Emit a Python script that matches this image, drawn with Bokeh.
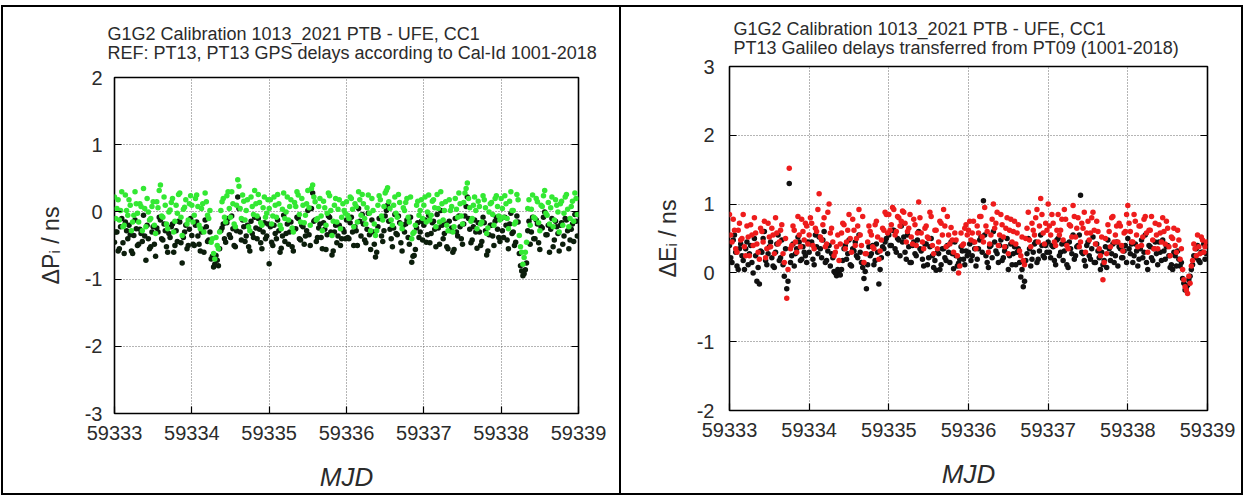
from bokeh.plotting import figure
from bokeh.models import FixedTicker, LinearAxis, Title, Range1d
from bokeh.layouts import row
from bokeh.embed import file_html
from bokeh.resources import INLINE

# ---------------- data ----------------
MJD_START = 59333
SAMPLES_PER_DAY = 32          # one track epoch every 45 min, two tracks interleaved
X_TICKS = [59333, 59334, 59335, 59336, 59337, 59338, 59339]
P_Y_TICKS = [-3, -2, -1, 0, 1, 2]
E_Y_TICKS = [-2, -1, 0, 1, 2, 3]

TITLE_LINE1 = "G1G2 Calibration 1013_2021 PTB - UFE, CC1"
P_TITLE_LINE2 = "REF: PT13, PT13 GPS delays according to Cal-Id 1001-2018"
E_TITLE_LINE2 = "PT13 Galileo delays transferred from PT09 (1001-2018)"
P_YLABEL = "\u0394P\u1d62 / ns"
E_YLABEL = "\u0394E\u1d62 / ns"
XLABEL = "MJD"

# Delta P (GPS) - green series, ns (track A)
dP_green = [
    0.22, 0.05, -0.12, 0.30, -0.20, 0.02, 0.18, -0.28, -0.05, 0.12, -0.15, 0.08, 0.35, -0.22, 0.00, -0.10,
    0.15, -0.32, 0.06, 0.40, -0.08, 0.10, -0.25, 0.03, 0.20, -0.14, -0.02, 0.28, -0.35, 0.07, -0.18, 0.12,
    0.10, -0.05, 0.25, -0.20, 0.05, -0.30, 0.15, -0.10, -0.45, -0.62, -0.38, -0.55, 0.02, 0.20, -0.15, 0.30,
    -0.08, 0.12, -0.22, 0.48, 0.05, 0.25, -0.12, 0.18, -0.28, 0.08, 0.32, -0.06, 0.14, -0.20, 0.22, -0.02,
    0.05, -0.18, 0.22, -0.08, 0.12, -0.25, 0.28, 0.00, -0.12, 0.18, -0.30, 0.08, 0.25, -0.15, 0.10, -0.05,
    0.32, -0.20, 0.40, 0.15, -0.10, 0.20, -0.28, 0.06, -0.02, 0.24, -0.35, 0.10, -0.15, 0.18, -0.08, 0.02,
    0.15, -0.10, 0.20, -0.22, 0.08, 0.30, -0.05, 0.12, -0.18, 0.25, -0.28, 0.02, -0.35, 0.10, 0.18, -0.12,
    0.28, 0.36, 0.05, -0.20, 0.22, -0.08, 0.14, -0.25, 0.02, 0.20, -0.15, -0.40, -0.30, 0.10, -0.05, 0.18,
    0.10, -0.15, 0.25, -0.05, 0.18, -0.22, 0.05, 0.30, -0.12, 0.15, -0.28, 0.02, -0.30, 0.20, -0.08, 0.12,
    -0.18, 0.28, 0.43, 0.06, -0.10, 0.22, -0.25, 0.08, -0.15, 0.18, -0.32, 0.00, 0.14, -0.20, 0.24, -0.06,
    0.20, -0.08, 0.12, -0.25, 0.30, 0.02, -0.15, 0.18, -0.52, -0.78, -0.60, 0.05, -0.20, 0.25, -0.10, 0.15,
    -0.28, 0.08, 0.32, -0.05, -0.18, 0.22, -0.12, 0.10, -0.30, 0.16, -0.02, 0.26, -0.22, 0.08, -0.14, 0.20,
]
# Delta P (GPS) - green series, ns (track B)
dP_green_b = [
    -0.10, 0.18, 0.02, -0.22, 0.25, -0.05, 0.10, -0.15, 0.30, -0.02, 0.12, -0.28, 0.05, 0.20, -0.12, 0.08,
    -0.20, 0.15, 0.32, -0.06, 0.22, -0.18, 0.00, 0.14, -0.30, 0.10, 0.26, -0.08, 0.04, 0.18, -0.12, 0.24,
    -0.15, 0.20, 0.08, -0.25, 0.12, 0.28, -0.05, 0.02, -0.40, -0.70, -0.50, -0.30, 0.15, -0.08, 0.24, 0.05,
    0.30, -0.18, 0.10, 0.38, -0.10, 0.16, 0.02, -0.22, 0.22, -0.04, 0.12, 0.26, -0.16, 0.06, -0.08, 0.18,
    0.18, -0.06, 0.10, 0.26, -0.20, 0.04, -0.10, 0.22, 0.08, -0.24, 0.14, 0.30, -0.04, 0.20, -0.16, 0.12,
    0.06, 0.35, 0.22, -0.12, 0.08, -0.06, 0.16, -0.20, 0.28, 0.02, -0.14, 0.20, 0.04, -0.25, 0.12, -0.02,
    -0.05, 0.22, 0.04, 0.12, -0.15, 0.18, 0.26, -0.10, 0.06, -0.02, 0.20, -0.18, -0.28, 0.24, -0.06, 0.08,
    0.32, 0.15, -0.12, 0.10, -0.02, 0.26, -0.18, 0.06, 0.14, -0.08, 0.22, -0.32, -0.20, 0.16, 0.02, -0.10,
    0.22, 0.00, -0.12, 0.16, 0.06, 0.26, -0.15, 0.12, 0.02, -0.20, 0.18, 0.08, -0.22, 0.04, 0.28, -0.06,
    0.14, 0.35, 0.20, -0.14, 0.10, 0.02, 0.16, -0.18, 0.24, 0.06, -0.24, 0.12, -0.04, 0.20, 0.08, -0.12,
    0.05, 0.24, -0.10, 0.16, 0.02, -0.18, 0.26, -0.35, -0.60, -0.68, -0.45, 0.18, 0.04, -0.08, 0.20, -0.16,
    0.10, 0.24, -0.02, 0.14, 0.06, -0.22, 0.18, 0.00, 0.12, -0.20, 0.22, 0.04, -0.10, 0.16, 0.28, -0.04,
]
# Delta P (GPS) - black series, ns (track A)
dP_black = [
    -0.45, -0.30, -0.55, -0.10, -0.62, -0.28, -0.20, -0.58, -0.35, -0.25, -0.48, -0.32, -0.05, -0.72, -0.40, -0.52,
    -0.22, -0.66, -0.30, -0.12, -0.42, -0.28, -0.60, -0.38, -0.18, -0.50, -0.44, -0.15, -0.76, -0.30, -0.55, -0.26,
    -0.35, -0.50, -0.15, -0.48, -0.30, -0.60, -0.22, -0.42, -0.70, -0.82, -0.65, -0.80, -0.28, -0.18, -0.45, -0.10,
    -0.38, -0.25, -0.52, 0.22, -0.30, -0.12, -0.44, -0.20, -0.58, -0.32, -0.08, -0.40, -0.26, -0.55, -0.16, -0.36,
    -0.77, -0.45, -0.20, -0.40, -0.28, -0.54, -0.05, -0.32, -0.48, -0.15, -0.58, -0.25, -0.10, -0.42, -0.22, -0.36,
    0.02, -0.50, 0.28, -0.12, -0.38, -0.18, -0.55, -0.26, -0.34, -0.08, -0.64, -0.30, -0.46, -0.20, -0.40, -0.30,
    -0.12, -0.40, -0.08, -0.50, -0.28, 0.05, -0.36, -0.18, -0.46, -0.02, -0.56, -0.30, -0.67, -0.22, -0.10, -0.44,
    -0.06, 0.10, -0.26, -0.52, -0.04, -0.34, -0.16, -0.58, -0.30, -0.12, -0.48, -0.75, -0.65, -0.24, -0.38, -0.14,
    -0.20, -0.45, -0.05, -0.32, -0.14, -0.52, -0.24, 0.02, -0.40, -0.18, -0.55, -0.28, -0.60, -0.10, -0.36, -0.22,
    -0.48, -0.06, 0.22, -0.26, -0.42, -0.12, -0.54, -0.30, -0.44, -0.16, -0.64, -0.34, -0.20, -0.50, -0.08, -0.38,
    -0.10, -0.38, -0.20, -0.55, -0.02, -0.30, -0.45, -0.15, -0.80, -0.95, -0.86, -0.28, -0.48, -0.08, -0.40, -0.18,
    -0.56, -0.24, 0.00, -0.34, -0.60, -0.10, -0.42, -0.22, -0.58, -0.16, -0.36, -0.12, -0.55, -0.26, -0.44, -0.14,
]
# Delta P (GPS) - black series, ns (track B)
dP_black_b = [
    -0.30, -0.58, -0.22, -0.46, -0.15, -0.40, -0.34, -0.62, -0.12, -0.50, -0.26, -0.44, -0.36, -0.20, -0.55, -0.30,
    -0.48, -0.24, -0.08, -0.40, -0.18, -0.52, -0.32, -0.22, -0.60, -0.28, -0.14, -0.46, -0.38, -0.20, -0.50, -0.10,
    -0.48, -0.20, -0.36, -0.58, -0.26, -0.12, -0.44, -0.30, -0.66, -0.78, -0.72, -0.55, -0.24, -0.40, -0.16, -0.34,
    -0.06, -0.50, -0.28, 0.05, -0.42, -0.22, -0.36, -0.52, -0.14, -0.38, -0.24, -0.10, -0.46, -0.30, -0.40, -0.18,
    -0.22, -0.50, -0.32, -0.12, -0.60, -0.36, -0.44, -0.18, -0.30, -0.52, -0.26, -0.08, -0.40, -0.20, -0.48, -0.28,
    -0.34, 0.05, -0.14, -0.44, -0.24, -0.38, -0.16, -0.56, -0.06, -0.30, -0.58, -0.20, -0.36, -0.50, -0.26, -0.40,
    -0.38, -0.16, -0.30, -0.22, -0.50, -0.14, -0.04, -0.42, -0.26, -0.34, -0.12, -0.48, -0.60, -0.10, -0.36, -0.28,
    0.02, -0.14, -0.40, -0.24, -0.32, -0.06, -0.46, -0.20, -0.18, -0.38, -0.08, -0.66, -0.56, -0.16, -0.30, -0.42,
    -0.12, -0.34, -0.46, -0.16, -0.26, -0.04, -0.48, -0.20, -0.32, -0.52, -0.14, -0.24, -0.56, -0.30, -0.06, -0.40,
    -0.18, 0.08, -0.10, -0.46, -0.22, -0.30, -0.16, -0.50, -0.08, -0.28, -0.58, -0.20, -0.36, -0.14, -0.26, -0.44,
    -0.28, -0.08, -0.42, -0.18, -0.32, -0.50, -0.06, -0.62, -0.88, -0.92, -0.76, -0.14, -0.30, -0.40, -0.12, -0.46,
    -0.22, -0.08, -0.34, -0.20, -0.26, -0.52, -0.14, -0.32, -0.20, -0.48, -0.10, -0.28, -0.42, -0.18, -0.04, -0.36,
]
# Delta E (Galileo) - red series, ns (track A)
dE_red = [
    0.85, 0.45, 0.62, 0.30, 0.72, 0.50, 0.38, 0.68, 0.25, 0.55, 0.80, 0.42, 0.20, 0.60, 0.75, 0.35,
    0.52, 0.65, 0.28, 0.58, 0.45, 0.70, 0.15, -0.37, 1.52, 0.40, 0.62, 0.30, 0.55, 0.78, 0.48, 0.68,
    0.55, 0.72, 0.35, 0.60, 1.15, 0.48, 0.80, 0.42, 1.00, 0.65, 0.25, 0.38, 0.18, 0.58, 0.70, 0.45,
    0.85, 0.30, 0.62, 0.50, 0.92, 0.40, 0.15, 0.28, 0.68, 0.55, 0.35, 0.75, 0.20, 0.48, 0.62, 0.85,
    0.85, 0.70, 0.92, 0.60, 0.80, 0.75, 0.88, 0.45, 0.65, 0.52, 0.78, 0.40, 1.03, 0.58, 0.35, 0.68,
    0.50, 0.82, 0.28, 0.62, 0.45, 0.72, 0.92, 0.38, 0.55, 0.66, 0.30, 0.48, 0.00, 0.58, 0.42, 0.70,
    0.62, 0.48, 0.75, 0.35, 0.58, 0.82, 0.45, 0.68, 0.30, 0.55, 1.00, 0.72, 0.40, 0.85, 0.52, 0.65,
    0.28, 0.78, 0.60, 0.42, 0.70, 0.25, 0.18, 0.50, 0.88, 0.38, 0.62, 0.80, 0.45, 1.08, 0.58, 0.72,
    1.00, 0.55, 0.72, 0.40, 0.85, 0.62, 0.48, 0.78, 0.35, 0.68, 0.98, 0.52, 0.80, 0.45, 0.65, 0.30,
    0.75, 0.58, 0.88, 0.42, 0.60, 0.25, -0.10, 0.50, 0.70, 0.38, 0.82, 0.55, 0.45, 0.68, 0.32, 0.60,
    0.98, 0.60, 0.45, 0.75, 0.38, 0.68, 0.52, 0.82, 0.30, 0.62, 0.48, 0.72, 0.35, 0.58, 0.80, 0.42,
    0.65, 0.25, 0.50, 0.40, 0.62, 0.20, 0.05, -0.20, -0.30, -0.15, 0.18, 0.35, 0.55, 0.28, 0.48, 0.38,
]
# Delta E (Galileo) - red series, ns (track B)
dE_red_b = [
    0.55, 0.78, 0.35, 0.62, 0.48, 0.85, 0.25, 0.52, 0.70, 0.40, 0.58, 0.30, 0.65, 0.45, 0.22, 0.72,
    0.38, 0.55, 0.80, 0.42, 0.62, 0.28, 0.50, 0.05, 0.35, 0.68, 0.45, 0.82, 0.38, 0.60, 0.72, 0.42,
    0.80, 0.40, 0.65, 0.92, 0.52, 0.70, 0.38, 0.88, 0.58, 0.45, 0.30, 0.55, 0.42, 0.72, 0.35, 0.62,
    0.50, 0.78, 0.40, 0.68, 0.55, 0.82, 0.28, 0.45, 0.60, 0.38, 0.70, 0.52, 0.32, 0.65, 0.88, 0.58,
    0.62, 0.95, 0.55, 0.82, 0.68, 0.90, 0.72, 0.60, 0.85, 0.42, 0.70, 0.58, 0.80, 0.45, 0.65, 0.52,
    0.88, 0.40, 0.62, 0.35, 0.75, 0.55, 0.68, 0.82, 0.42, 0.48, 0.58, 0.25, 0.10, 0.40, 0.65, 0.55,
    0.75, 0.58, 0.45, 0.68, 0.82, 0.52, 0.95, 0.60, 0.42, 0.78, 0.65, 0.88, 0.55, 0.70, 0.38, 0.80,
    0.62, 0.45, 0.75, 0.58, 0.32, 0.52, 0.12, 0.65, 0.48, 0.72, 0.55, 0.92, 0.68, 0.85, 0.42, 0.62,
    0.68, 0.85, 0.45, 0.62, 0.55, 0.78, 0.92, 0.40, 0.70, 0.52, 0.82, 0.65, 0.38, 0.72, 0.88, 0.58,
    0.48, 0.80, 0.62, 0.75, 0.35, 0.52, 0.15, 0.28, 0.60, 0.80, 0.45, 0.68, 0.72, 0.40, 0.58, 0.85,
    0.72, 0.45, 0.85, 0.55, 0.68, 0.40, 0.78, 0.58, 0.62, 0.82, 0.35, 0.55, 0.70, 0.45, 0.60, 0.75,
    0.38, 0.52, 0.65, 0.30, 0.48, 0.35, -0.10, -0.25, -0.05, 0.10, 0.42, 0.25, 0.38, 0.52, 0.30, 0.45,
]
# Delta E (Galileo) - black series, ns (track A)
dE_black = [
    0.40, 0.15, 0.55, 0.10, 0.35, 0.25, 0.05, 0.45, 0.28, 0.15, 0.50, -0.12, -0.16, 0.30, 0.60, 0.12,
    0.38, 0.22, 0.08, 0.42, 0.18, 0.48, -0.05, -0.23, 1.30, 0.25, 0.10, 0.35, 0.45, 0.20, 0.30, 0.15,
    0.30, 0.45, 0.12, 0.38, 0.52, 0.22, 0.60, 0.18, 0.40, 0.28, 0.02, -0.04, 0.00, 0.05, 0.35, 0.20,
    0.48, 0.10, 0.32, 0.25, 0.55, 0.15, -0.08, -0.23, 0.38, 0.28, 0.12, 0.42, -0.16, 0.22, 0.35, 0.50,
    0.55, 0.40, 0.62, 0.30, 0.48, 0.68, 0.52, 0.20, 0.38, 0.15, 0.45, 0.25, 0.60, 0.32, 0.10, 0.42,
    0.22, 0.50, 0.08, 0.04, 0.28, 0.12, 0.35, 0.18, 0.30, 0.45, 0.06, 0.25, 0.14, 0.38, 0.20, 0.32,
    0.30, 0.18, 0.45, 0.10, 0.35, 0.52, 1.05, 0.25, 0.08, 0.40, 0.60, 0.32, 0.15, 0.48, 0.22, 0.38,
    0.05, 0.42, 0.28, 0.12, 0.35, -0.06, -0.20, 0.18, 0.50, 0.10, 0.30, 0.45, 0.20, 0.55, 0.25, 0.40,
    0.45, 0.22, 0.38, 0.12, 0.50, 0.30, 0.18, 0.42, 0.08, 0.35, 0.55, 0.25, 0.40, 1.13, 0.28, 0.10,
    0.45, 0.20, 0.52, 0.15, 0.32, 0.05, 0.12, 0.38, 0.48, 0.18, 0.42, 0.25, 0.10, 0.35, 0.22, 0.40,
    0.50, 0.28, 0.15, 0.42, 0.10, 0.35, 0.22, 0.55, 0.05, 0.38, 0.18, 0.45, 0.12, 0.30, 0.48, 0.20,
    0.40, 0.08, 0.05, 0.25, 0.32, 0.10, -0.08, -0.25, -0.18, -0.05, 0.12, 0.22, 0.40, 0.15, 0.30, 0.20,
]
# Delta E (Galileo) - black series, ns (track B)
dE_black_b = [
    0.22, 0.48, 0.30, 0.05, 0.42, 0.18, 0.35, 0.12, 0.40, 0.00, 0.25, 0.08, 0.32, 0.50, 0.18, 0.28,
    0.45, 0.10, 0.30, 0.55, 0.22, 0.12, 0.35, -0.12, 0.15, 0.42, 0.28, 0.52, 0.18, 0.38, 0.25, 0.45,
    0.42, 0.20, 0.55, 0.28, 0.35, 0.48, 0.15, 0.32, 0.10, 0.22, 0.00, 0.05, -0.03, 0.18, 0.40, 0.28,
    0.12, 0.35, 0.45, 0.22, 0.30, 0.08, 0.02, 0.12, 0.25, 0.40, 0.18, 0.30, 0.05, 0.38, 0.45, 0.28,
    0.40, 0.62, 0.35, 0.50, 0.25, 0.45, 0.30, 0.55, 0.15, 0.40, 0.28, 0.48, 0.35, 0.20, 0.42, 0.12,
    0.38, 0.25, 0.18, 0.30, 0.05, 0.35, 0.22, 0.40, 0.15, 0.28, 0.45, 0.10, 0.20, 0.32, 0.12, 0.25,
    0.42, 0.25, 0.35, 0.20, 0.48, 0.30, 0.55, 0.15, 0.38, 0.22, 0.45, 0.28, 0.40, 0.18, 0.32, 0.50,
    0.25, 0.12, 0.38, 0.30, 0.15, 0.05, -0.12, 0.28, 0.35, 0.20, 0.42, 0.15, 0.32, 0.40, 0.22, 0.30,
    0.30, 0.40, 0.18, 0.48, 0.25, 0.42, 0.32, 0.12, 0.45, 0.28, 0.20, 0.38, 0.55, 0.30, 0.18, 0.40,
    0.25, 0.35, 0.15, 0.42, 0.22, 0.30, 0.18, 0.08, 0.35, 0.28, 0.15, 0.45, 0.38, 0.22, 0.32, 0.15,
    0.35, 0.42, 0.25, 0.32, 0.20, 0.48, 0.30, 0.15, 0.40, 0.22, 0.35, 0.28, 0.45, 0.18, 0.32, 0.38,
    0.25, 0.12, 0.30, 0.10, 0.20, 0.15, -0.15, -0.22, -0.10, 0.05, 0.25, 0.35, 0.18, 0.30, 0.42, 0.28,
]


def epochs(n, phase):
    return [MJD_START + (k + phase) / SAMPLES_PER_DAY for k in range(n)]


FONT = "Liberation Sans"
TEXT_COLOR = "#2b2b2b"


def make_panel(width, height, yr, yticks, ylabel, line2, series, mb, title_offset,
               title_standoff, ylabel_standoff, ytick_standoff, styles, margin):
    p = figure(width=width, height=height, output_backend="svg", toolbar_location=None,
               x_range=Range1d(59333, 59339), y_range=Range1d(*yr), title=None,
               min_border_left=mb[0], min_border_right=mb[1], min_border_top=mb[2],
               min_border_bottom=mb[3], styles=styles, margin=margin, frame_align=False)
    p.background_fill_color = "white"
    p.border_fill_color = "white"
    p.outline_line_color = "black"
    p.outline_line_width = 1.6

    for ax in (p.xaxis[0], p.yaxis[0]):
        ax.major_label_text_font = FONT
        ax.major_label_text_font_size = "20px"
        ax.major_label_text_color = TEXT_COLOR
        ax.major_tick_in = 7
        ax.major_tick_out = 0
        ax.major_tick_line_color = "black"
        ax.major_tick_line_width = 1.2
        ax.minor_tick_line_color = None
        ax.axis_line_color = None
        ax.axis_label_text_font = FONT
        ax.axis_label_text_color = TEXT_COLOR
    p.xaxis[0].ticker = FixedTicker(ticks=X_TICKS)
    p.yaxis[0].ticker = FixedTicker(ticks=yticks)
    p.yaxis[0].major_label_overrides = {t: str(t) for t in yticks}
    p.xaxis[0].axis_label = XLABEL
    p.xaxis[0].axis_label_text_font_style = "italic"
    p.xaxis[0].axis_label_text_font_size = "26px"
    p.xaxis[0].axis_label_standoff = 19
    p.xaxis[0].major_label_standoff = 12
    p.yaxis[0].axis_label = ylabel
    p.yaxis[0].axis_label_text_font_style = "normal"
    p.yaxis[0].axis_label_text_font_size = "23px"
    p.yaxis[0].axis_label_standoff = ylabel_standoff
    p.yaxis[0].major_label_standoff = ytick_standoff

    # mirrored inward ticks on the right edge (labels not drawn)
    right = LinearAxis(ticker=FixedTicker(ticks=yticks), major_label_text_font_size="1px",
                       major_label_text_color=None,
                       major_tick_in=7, major_tick_out=0, minor_tick_line_color=None,
                       axis_line_color=None, major_label_standoff=0, major_tick_line_width=1.2)
    p.add_layout(right, "right")

    for g in (p.xgrid[0], p.ygrid[0]):
        g.grid_line_color = "#6a6a6a"
        g.grid_line_dash = "1 2"
        g.grid_line_width = 1
    p.xgrid[0].ticker = FixedTicker(ticks=X_TICKS)
    p.ygrid[0].ticker = FixedTicker(ticks=yticks)

    t = Title(text=TITLE_LINE1 + "\n" + line2, align="left", offset=title_offset,
              standoff=title_standoff, text_font=FONT, text_font_size="18px",
              text_font_style="normal", text_color=TEXT_COLOR, text_line_height=0.95)
    p.add_layout(t, "above")

    for ys, phase, color in series:
        p.scatter(epochs(len(ys), phase), ys, size=5.5, color=color, line_color=None)
    return p


p1 = make_panel(620, 490, (-3, 2), P_Y_TICKS, P_YLABEL, P_TITLE_LINE2,
                [(dP_black, 0.0, "#0c1e0c"), (dP_black_b, 0.5, "#0c1e0c"),
                 (dP_green, 0.0, "#33e833"), (dP_green_b, 0.5, "#33e833")],
                (111, 45, 70, 84), -7, 29, 18, 12,
                {"border": "2px solid black"}, (5, 0, 0, 1))
p2 = make_panel(622, 490, (-2, 3), E_Y_TICKS, E_YLABEL, E_TITLE_LINE2,
                [(dE_black, 0.0, "#111111"), (dE_black_b, 0.5, "#111111"),
                 (dE_red, 0.0, "#ee1c1c"), (dE_red_b, 0.5, "#ee1c1c")],
                (108, 36, 59, 87), 4, 17, 13, 15,
                {"border-top": "2px solid black", "border-right": "2px solid black",
                 "border-bottom": "2px solid black"}, (5, 0, 0, 0))

layout = row(p1, p2)
open("out.html", "w").write(file_html(layout, INLINE))
